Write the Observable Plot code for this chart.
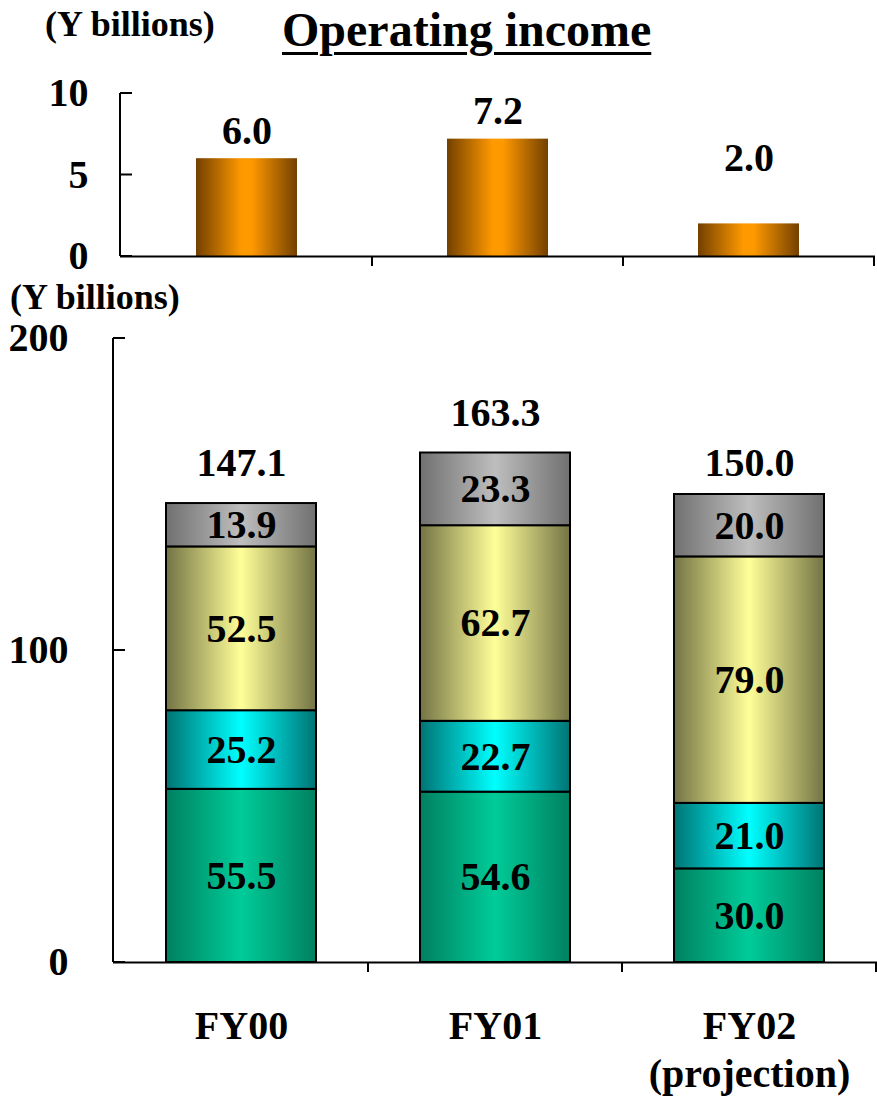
<!DOCTYPE html>
<html>
<head>
<meta charset="utf-8">
<script src="https://cdn.jsdelivr.net/npm/d3@7"></script>
<script src="https://cdn.jsdelivr.net/npm/@observablehq/plot@0.6"></script>
<style>
  html, body { margin: 0; padding: 0; background: #fff; }
  #wrap { position: relative; width: 877px; height: 1098px; overflow: hidden;
          font-family: "Liberation Serif", "Times New Roman", serif; font-weight: bold; color: #000; }
  .lab { position: absolute; font-size: 36px; line-height: 1; white-space: nowrap; }
  .title { position: absolute; font-size: 48px; line-height: 1; text-decoration: underline;
           text-decoration-thickness: 3px; text-underline-offset: 6px; white-space: nowrap; }
  .chart { position: absolute; left: 0; }
</style>
</head>
<body>
<div id="wrap">
  <svg width="0" height="0" style="position:absolute">
    <defs>
      <linearGradient id="gOrange" x1="0" x2="1" y1="0" y2="0">
        <stop offset="0" stop-color="#734000"/>
        <stop offset="0.45" stop-color="#FF9900"/>
        <stop offset="0.55" stop-color="#FF9900"/>
        <stop offset="1" stop-color="#734000"/>
      </linearGradient>
      <linearGradient id="gGreen" x1="0" x2="1" y1="0" y2="0">
        <stop offset="0" stop-color="#008060"/>
        <stop offset="0.5" stop-color="#00CC99"/>
        <stop offset="1" stop-color="#008060"/>
      </linearGradient>
      <linearGradient id="gCyan" x1="0" x2="1" y1="0" y2="0">
        <stop offset="0" stop-color="#007373"/>
        <stop offset="0.5" stop-color="#00FFFF"/>
        <stop offset="1" stop-color="#007373"/>
      </linearGradient>
      <linearGradient id="gYellow" x1="0" x2="1" y1="0" y2="0">
        <stop offset="0" stop-color="#737345"/>
        <stop offset="0.5" stop-color="#FFFF99"/>
        <stop offset="1" stop-color="#737345"/>
      </linearGradient>
      <linearGradient id="gGray" x1="0" x2="1" y1="0" y2="0">
        <stop offset="0" stop-color="#707070"/>
        <stop offset="0.5" stop-color="#BEBEBE"/>
        <stop offset="1" stop-color="#707070"/>
      </linearGradient>
    </defs>
  </svg>
  <div class="lab" style="left:45px; top:6px;">(Y billions)</div>
  <div class="title" style="left:282px; top:6px;">Operating income</div>
  <div id="top" class="chart" style="top:60px;"></div>
  <div class="lab" style="left:10px; top:279px;">(Y billions)</div>
  <div id="bottom" class="chart" style="top:300px;"></div>
</div>
<script>
// ---- data ----
const years = ["FY00", "FY01", "FY02"];
const yearLabels = ["FY00", "FY01", "FY02\n(projection)"];
const operatingIncome = [6.0, 7.2, 2.0];
const seriesNames = ["Segment 1", "Segment 2", "Segment 3", "Segment 4"]; // bottom to top
const segment1 = [55.5, 54.6, 30.0];
const segment2 = [25.2, 22.7, 21.0];
const segment3 = [52.5, 62.7, 79.0];
const segment4 = [13.9, 23.3, 20.0];
const totals = [147.1, 163.3, 150.0];
const topTicks = [0, 5, 10];
const bottomTicks = [0, 100, 200];

// ---- derived tables ----
const incomeData = years.map((y, i) => ({year: y, value: operatingIncome[i]}));
const segValues = [segment1, segment2, segment3, segment4];
const stackData = [];
years.forEach((y, i) => seriesNames.forEach((s, j) => stackData.push({year: y, series: s, value: segValues[j][i]})));
const totalData = years.map((y, i) => ({year: y, value: totals[i]}));
const labelOf = Object.fromEntries(years.map((y, i) => [y, yearLabels[i]]));

const FONT = '"Liberation Serif", "Times New Roman", serif';
const NS = "http://www.w3.org/2000/svg";

// custom axis lines: y axis line, inward y ticks, category separators
function frameMarks(yTicks, tickLen, sepLen) {
  return (index, scales, values, dims) => {
    const g = document.createElementNS(NS, "g");
    g.setAttribute("stroke", "#000");
    g.setAttribute("stroke-width", "2");
    const line = (x1, y1, x2, y2) => {
      if (![x1, y1, x2, y2].every(Number.isFinite)) return;
      const l = document.createElementNS(NS, "line");
      l.setAttribute("x1", x1); l.setAttribute("y1", y1);
      l.setAttribute("x2", x2); l.setAttribute("y2", y2);
      g.appendChild(l);
    };
    const x0 = dims.marginLeft;
    const yb = scales.y(0);
    let bw = scales.x.bandwidth;
    if (typeof bw === "function") bw = bw();
    if (!Number.isFinite(bw)) bw = (dims.width - dims.marginLeft - dims.marginRight) / years.length;
    line(x0, scales.y(yTicks[yTicks.length - 1]), x0, yb);
    yTicks.forEach(t => line(x0, scales.y(t), x0 + tickLen, scales.y(t)));
    years.forEach(y => {
      const xs = +scales.x(y) + bw;
      line(xs, yb, xs, yb + sepLen);
    });
    return g;
  };
}

const textOpts = {fontSize: 40, fontWeight: "bold", fill: "#000"};

// ---- top chart: operating income ----
const topPlot = Plot.plot({
  width: 877, height: 220,
  marginLeft: 120, marginRight: 2, marginTop: 33, marginBottom: 24,
  style: {fontFamily: FONT, fontWeight: "bold", fontSize: "40px", color: "#000", background: "transparent"},
  x: {domain: years, padding: 0, axis: null},
  y: {domain: [0, 10], axis: null},
  marks: [
    Plot.barY(incomeData, {x: "year", y: "value", fill: "url(#gOrange)", insetLeft: 75, insetRight: 75}),
    Plot.ruleY([0], {stroke: "#000", strokeWidth: 2}),
    Plot.axisY({ticks: topTicks, tickSize: 0, tickPadding: 32, label: null, ...textOpts}),
    frameMarks(topTicks, 12, 10),
    Plot.text(incomeData.filter(d => d.year !== "FY02"), {x: "year", y: "value", text: d => d.value.toFixed(1), dy: -28, ...textOpts}),
    Plot.text(incomeData.filter(d => d.year === "FY02"), {x: "year", y: "value", text: d => d.value.toFixed(1), dy: -66, ...textOpts})
  ]
});
document.getElementById("top").appendChild(topPlot);

// ---- bottom chart: stacked ----
const botPlot = Plot.plot({
  width: 877, height: 798,
  marginLeft: 113, marginRight: 0, marginTop: 38, marginBottom: 136,
  style: {fontFamily: FONT, fontWeight: "bold", fontSize: "40px", color: "#000", background: "transparent"},
  x: {domain: years, padding: 0, axis: null},
  y: {domain: [0, 200], axis: null},
  color: {domain: seriesNames, range: ["url(#gGreen)", "url(#gCyan)", "url(#gYellow)", "url(#gGray)"]},
  marks: [
    Plot.barY(stackData, {x: "year", y: "value", z: "series", fill: "series", stroke: "#000", strokeWidth: 2, insetLeft: 52, insetRight: 52}),
    Plot.text(stackData, Plot.stackY({x: "year", y: "value", z: "series", text: d => d.value.toFixed(1), ...textOpts})),
    Plot.text(totalData.filter(d => d.year !== "FY02"), {x: "year", y: "value", text: d => d.value.toFixed(1), dy: -40, ...textOpts}),
    Plot.text(totalData.filter(d => d.year === "FY02"), {x: "year", y: "value", text: d => d.value.toFixed(1), dy: -31, ...textOpts}),
    Plot.ruleY([0], {stroke: "#000", strokeWidth: 2}),
    Plot.axisY({ticks: bottomTicks, tickSize: 0, tickPadding: 45, label: null, ...textOpts}),
    Plot.axisX({tickSize: 0, tickPadding: 42, label: null, lineHeight: 1.2, tickFormat: d => labelOf[d], ...textOpts}),
    frameMarks(bottomTicks, 12, 10)
  ]
});
document.getElementById("bottom").appendChild(botPlot);
</script>
</body>
</html>
